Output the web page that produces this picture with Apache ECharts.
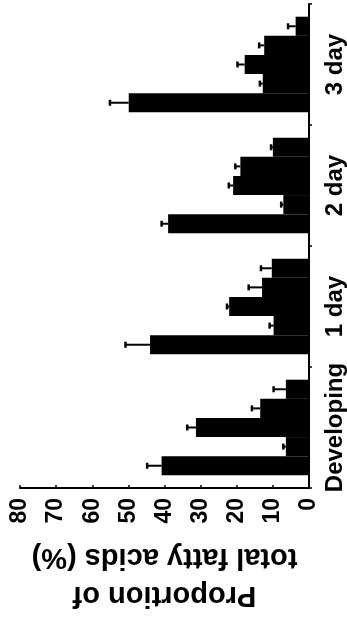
<!DOCTYPE html>
<html>
<head>
<meta charset="utf-8">
<script src="https://cdn.jsdelivr.net/npm/echarts@6/dist/echarts.min.js"></script>
<style>
  html, body { margin: 0; padding: 0; background: #fff; }
  #chart { width: 347px; height: 619px; }
</style>
</head>
<body>
<div id="chart"></div>
<script>
// Stages of seed development / germination
var stages = ['Developing', '1 day', '2 day', '3 day'];

// Five fatty-acid fractions per stage (% of total), listed per fraction
var fa1 = [40.8, 44.0, 39.0, 49.9];
var fa2 = [6.4, 9.8, 7.1, 12.8];
var fa3 = [31.3, 22.1, 21.0, 17.8];
var fa4 = [13.5, 13.0, 19.0, 12.4];
var fa5 = [6.4, 10.3, 10.0, 3.7];

// Standard errors for each fraction
var fa1Err = [4.0, 6.8, 1.8, 5.2];
var fa2Err = [0.7, 1.1, 0.6, 0.8];
var fa3Err = [2.4, 0.6, 1.2, 2.0];
var fa4Err = [2.3, 3.7, 1.4, 1.4];
var fa5Err = [3.4, 3.0, 0.5, 2.1];

// Value-axis ticks
var valueTicks = [0, 10, 20, 30, 40, 50, 60, 70, 80];

// fa1 sits nearest the category start (bottom of each group)
var values = [fa1, fa2, fa3, fa4, fa5];
var errors = [fa1Err, fa2Err, fa3Err, fa4Err, fa5Err];
var nSeries = values.length;
var categoryGap = 0.21;

var font = 'Liberation Sans, Arial, Helvetica, sans-serif';

var series = [];
// Bars are stacked in the band from top to bottom in series order,
// so add them last-to-first to put fa1 at the bottom.
for (var k = nSeries - 1; k >= 0; k--) {
  series.push({
    type: 'bar',
    data: values[k],
    barGap: '0%',
    barCategoryGap: (categoryGap * 100) + '%',
    itemStyle: { color: '#000' },
    silent: true,
    z: 2
  });
}

// One-sided error whiskers with caps, placed at the centre of each bar
values.forEach(function (vals, si) {
  series.push({
    type: 'custom',
    silent: true,
    z: 3,
    data: vals.map(function (v, ci) { return [v, ci, errors[si][ci]]; }),
    encode: { x: 0, y: 1 },
    renderItem: function (params, api) {
      var v = api.value(0), ci = api.value(1), e = api.value(2);
      var band = Math.abs(api.size([0, 1])[1]);
      var bw = band * (1 - categoryGap) / nSeries;
      var start = api.coord([v, ci]);
      var end = api.coord([v + e, ci]);
      var y = start[1] + ((nSeries - 1) / 2 - si) * bw;
      var cap = 3;
      return {
        type: 'group',
        children: [
          { type: 'line', shape: { x1: start[0], y1: y, x2: end[0], y2: y },
            style: { stroke: '#000', lineWidth: 2 } },
          { type: 'line', shape: { x1: end[0], y1: y - cap, x2: end[0], y2: y + cap },
            style: { stroke: '#000', lineWidth: 2.5 } }
        ]
      };
    }
  });
});

var chart = echarts.init(document.getElementById('chart'));
chart.setOption({
  animation: false,
  backgroundColor: '#fff',
  grid: { left: 20, right: 35, top: 4, bottom: 126, containLabel: false },
  xAxis: {
    type: 'value',
    inverse: true,
    min: valueTicks[0],
    max: valueTicks[valueTicks.length - 1],
    interval: valueTicks[1] - valueTicks[0],
    position: 'bottom',
    axisLine: { show: true, lineStyle: { color: '#000', width: 2 } },
    axisTick: { show: true, inside: true, length: 3, lineStyle: { color: '#000', width: 1.5 } },
    splitLine: { show: false },
    axisLabel: {
      rotate: 90, margin: 10, color: '#000',
      fontFamily: font, fontWeight: 'bold', fontSize: 23
    },
    name: 'Proportion of\ntotal fatty acids (%)',
    nameLocation: 'middle',
    nameRotate: 180,
    nameGap: 50,
    nameTextStyle: {
      color: '#000', fontFamily: font, fontWeight: 'bold',
      fontSize: 29, lineHeight: 38
    }
  },
  yAxis: {
    type: 'category',
    data: stages,
    position: 'right',
    axisLine: { show: true, lineStyle: { color: '#000', width: 2 } },
    axisTick: { show: true, length: 3, lineStyle: { color: '#000', width: 1.5 } },
    splitLine: { show: false },
    axisLabel: {
      interval: 0, rotate: 90, margin: 14, color: '#000',
      fontFamily: font, fontWeight: 'bold', fontSize: 24
    }
  },
  series: series
});
</script>
</body>
</html>
